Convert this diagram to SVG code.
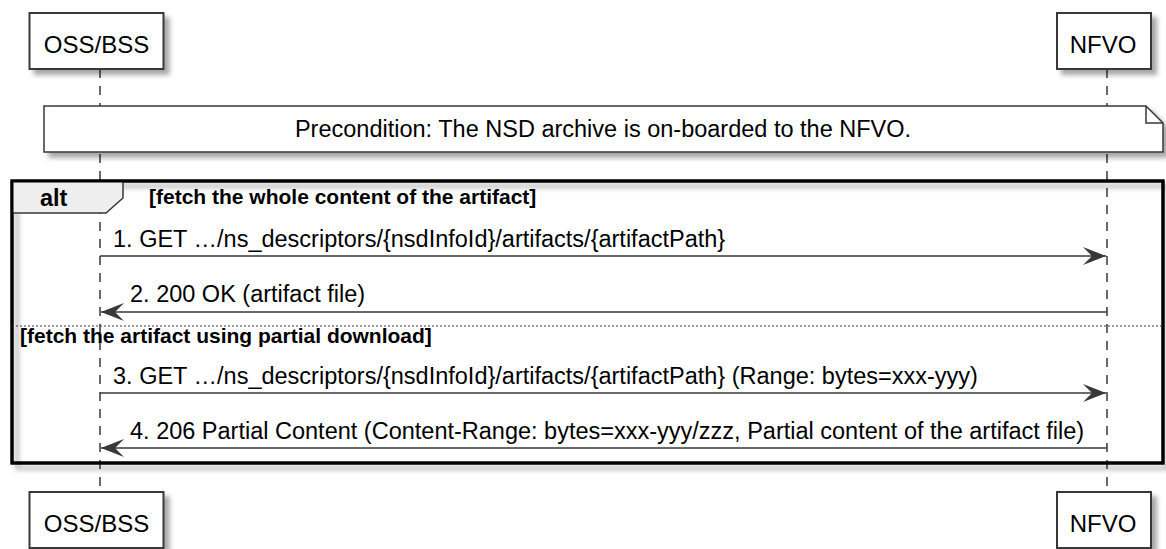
<svg xmlns="http://www.w3.org/2000/svg" width="1166" height="549" viewBox="0 0 1166 549">
<defs>
<filter id="sh" x="-5%" y="-10%" width="115%" height="130%">
<feDropShadow dx="5" dy="5" stdDeviation="2.5" flood-color="#000" flood-opacity="0.35"/>
</filter>
<marker id="ah" viewBox="0 0 24 20" refX="23" refY="10" markerWidth="24" markerHeight="20" markerUnits="userSpaceOnUse" orient="auto">
<polygon points="0,1 23,10 0,19 9,10" fill="#383838"/>
</marker>
<style>
.box{fill:#fff;stroke:#383838;stroke-width:2}
.actor{font-family:"Liberation Sans",Arial,sans-serif;font-size:24px;fill:#000;text-anchor:middle}
.life{stroke:#383838;stroke-width:1.5;stroke-dasharray:9,8;fill:none}
.msg{font-family:"Liberation Sans",Arial,sans-serif;font-size:23.5px;fill:#000}
.guard{font-family:"Liberation Sans",Arial,sans-serif;font-size:21px;font-weight:bold;fill:#000}
.line{stroke:#383838;stroke-width:1.5;fill:none}
</style>
</defs>
<rect width="1166" height="549" fill="#fff"/>

<g id="lifelines">
<line class="life" x1="100" y1="69" x2="100" y2="492"/>
<line class="life" x1="1107" y1="69" x2="1107" y2="492"/>
</g>

<g id="oss-top">
<rect class="box" x="29.5" y="13" width="134" height="56" filter="url(#sh)"/>
<text class="actor" x="96.5" y="53">OSS/BSS</text>
</g>
<g id="nfvo-top">
<rect class="box" x="1057" y="13" width="94" height="56" filter="url(#sh)"/>
<text class="actor" x="1103" y="53">NFVO</text>
</g>

<g id="note">
<path d="M44,106 H1146 L1163,123 V152 H44 Z" fill="#fff" stroke="#383838" stroke-width="1.5" filter="url(#sh)"/>
<path d="M1146,106 V123 H1163" fill="none" stroke="#383838" stroke-width="1.5"/>
<text class="msg" x="603" y="137" text-anchor="middle">Precondition: The NSD archive is on-boarded to the NFVO.</text>
</g>

<g id="alt">
<rect x="12" y="181" width="1151" height="282" fill="none" stroke="#000" stroke-width="3" filter="url(#sh)"/>
<path d="M12,181 H123 V198 L106,213 H12 Z" fill="#eeeeee" stroke="#383838" stroke-width="1.5"/>
<rect x="12" y="181" width="1151" height="282" fill="none" stroke="#000" stroke-width="3"/>
<text x="40" y="206" font-family="'Liberation Sans',Arial,sans-serif" font-size="23.5" font-weight="bold">alt</text>
<text class="guard" x="149" y="204">[fetch the whole content of the artifact]</text>
<line x1="12" y1="326" x2="1163" y2="326" stroke="#383838" stroke-width="1.2" stroke-dasharray="2,2"/>
<text class="guard" x="20" y="343">[fetch the artifact using partial download]</text>
</g>

<g id="connectors">
<line class="line" x1="100" y1="256" x2="1106" y2="256" marker-end="url(#ah)"/>
<text class="msg" x="113" y="247">1. GET …/ns_descriptors/{nsdInfoId}/artifacts/{artifactPath}</text>
<line class="line" x1="1107" y1="312" x2="101" y2="312" marker-end="url(#ah)"/>
<text class="msg" x="130" y="302">2. 200 OK (artifact file)</text>
<line class="line" x1="100" y1="393" x2="1106" y2="393" marker-end="url(#ah)"/>
<text class="msg" x="113" y="384">3. GET …/ns_descriptors/{nsdInfoId}/artifacts/{artifactPath} (Range: bytes=xxx-yyy)</text>
<line class="line" x1="1107" y1="448" x2="101" y2="448" marker-end="url(#ah)"/>
<text class="msg" x="130" y="439">4. 206 Partial Content (Content-Range: bytes=xxx-yyy/zzz, Partial content of the artifact file)</text>
</g>

<g id="oss-bottom">
<rect class="box" x="29.5" y="492" width="134" height="56" filter="url(#sh)"/>
<text class="actor" x="96.5" y="532">OSS/BSS</text>
</g>
<g id="nfvo-bottom">
<rect class="box" x="1057" y="492" width="94" height="56" filter="url(#sh)"/>
<text class="actor" x="1103" y="532">NFVO</text>
</g>
</svg>
